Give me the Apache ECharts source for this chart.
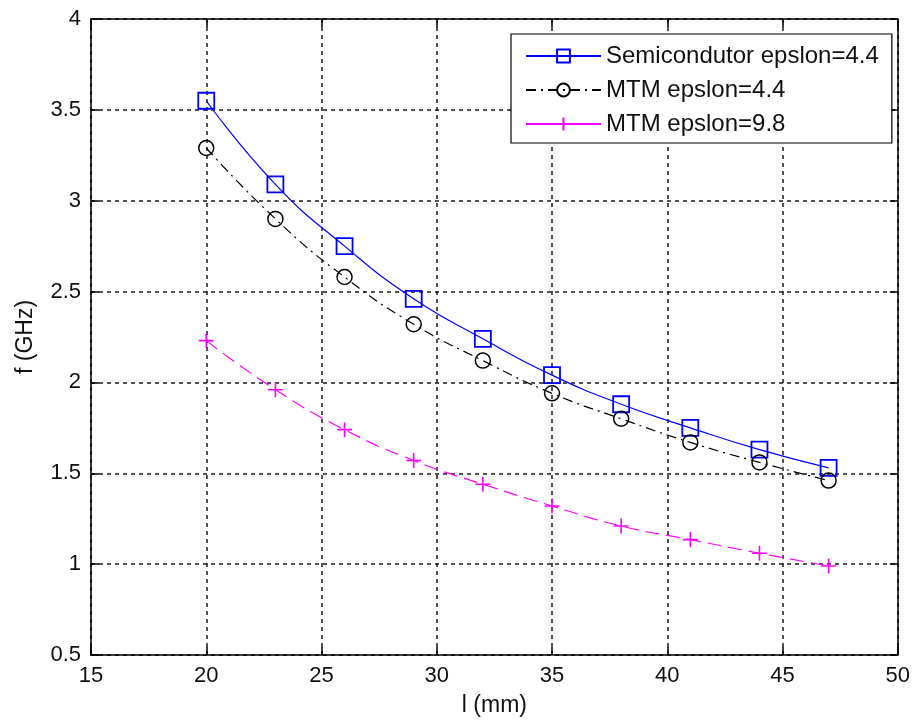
<!DOCTYPE html>
<html>
<head>
<meta charset="utf-8">
<script src="https://cdn.jsdelivr.net/npm/echarts@6/dist/echarts.min.js"></script>
<style>html,body{margin:0;padding:0;background:#fff;}#c{width:913px;height:722px;}</style>
</head>
<body>
<div id="c"></div>
<script>
const lengths = [20, 23, 26, 29, 32, 35, 38, 41, 44, 47];
const semi44 = [3.55, 3.09, 2.75, 2.46, 2.24, 2.04, 1.88, 1.75, 1.63, 1.53];
const mtm44 = [3.29, 2.90, 2.58, 2.32, 2.12, 1.94, 1.80, 1.67, 1.56, 1.46];
const mtm98 = [2.23, 1.96, 1.74, 1.57, 1.44, 1.32, 1.21, 1.135, 1.06, 0.99];
const seriesNames = ['Semicondutor epslon=4.4', 'MTM epslon=4.4', 'MTM epslon=9.8'];
const xTicks = {min: 15, max: 50, interval: 5};
const yTicks = {min: 0.5, max: 4, interval: 0.5};

const pairs = arr => lengths.map((x, i) => [x, arr[i]]);
const font = 'Liberation Sans, Arial, sans-serif';
const chart = echarts.init(document.getElementById('c'));

const baseX = {
  type: 'value', min: xTicks.min, max: xTicks.max, interval: xTicks.interval,
  axisLine: {show: true, onZero: false, lineStyle: {color: '#000', width: 1.5}},
  axisTick: {show: true, inside: true, length: 8, lineStyle: {color: '#000', width: 1.5}}
};
const baseY = {
  type: 'value', min: yTicks.min, max: yTicks.max, interval: yTicks.interval,
  axisLine: {show: true, onZero: false, lineStyle: {color: '#000', width: 1.5}},
  axisTick: {show: true, inside: true, length: 8, lineStyle: {color: '#000', width: 1.5}}
};
const gridLine = {show: true, lineStyle: {color: '#1a1a1a', width: 1.5, type: [4, 4]}};

chart.setOption({
  backgroundColor: '#fff',
  animation: false,
  grid: {left: 91, top: 19, right: 15, bottom: 67},
  xAxis: [
    Object.assign({}, baseX, {
      position: 'bottom',
      name: 'l (mm)', nameLocation: 'middle', nameGap: 39,
      nameTextStyle: {fontFamily: font, fontSize: 23, color: '#111'},
      axisLabel: {fontFamily: font, fontSize: 22, color: '#111', margin: 10},
      splitLine: gridLine
    }),
    Object.assign({}, baseX, {
      position: 'top', axisLabel: {show: false}, splitLine: {show: false}
    })
  ],
  yAxis: [
    Object.assign({}, baseY, {
      position: 'left',
      name: 'f (GHz)', nameLocation: 'middle', nameGap: 54, nameRotate: 90,
      nameTextStyle: {fontFamily: font, fontSize: 23, color: '#111'},
      axisLabel: {fontFamily: font, fontSize: 22, color: '#111', margin: 10},
      splitLine: gridLine
    }),
    Object.assign({}, baseY, {
      position: 'right', axisLabel: {show: false}, splitLine: {show: false}
    })
  ],
  legend: {
    orient: 'vertical', left: 511, top: 34,
    padding: [10, 13, 7, 14], itemGap: 10,
    itemWidth: 75, itemHeight: 16,
    backgroundColor: '#fff', borderColor: '#000', borderWidth: 1.2, borderRadius: 0,
    textStyle: {fontFamily: font, fontSize: 24, color: '#111'},
    data: [
      {name: seriesNames[0]},
      {name: seriesNames[1]},
      {name: seriesNames[2], lineStyle: {type: 'solid'}}
    ]
  },
  series: [
    {
      name: seriesNames[0], type: 'line', data: pairs(semi44), smooth: true,
      symbol: 'rect', symbolSize: 16, showAllSymbol: true,
      lineStyle: {color: '#0000ff', width: 1.2, type: 'solid'},
      itemStyle: {color: 'rgba(0,0,0,0)', borderColor: '#0000ff', borderWidth: 1.8}
    },
    {
      name: seriesNames[1], type: 'line', data: pairs(mtm44), smooth: true,
      symbol: 'circle', symbolSize: 15, showAllSymbol: true,
      lineStyle: {color: '#000', width: 1.2, type: [10, 5, 2, 5]},
      itemStyle: {color: 'rgba(0,0,0,0)', borderColor: '#000', borderWidth: 1.5}
    },
    {
      name: seriesNames[2], type: 'line', data: pairs(mtm98), smooth: true,
      symbol: 'path://M5,0 L5,10 M0,5 L10,5', symbolSize: 15, showAllSymbol: true,
      lineStyle: {color: '#ff00ff', width: 1.2, type: [14, 7]},
      itemStyle: {color: 'rgba(0,0,0,0)', borderColor: '#ff00ff', borderWidth: 1.6}
    }
  ]
});
</script>
</body>
</html>
